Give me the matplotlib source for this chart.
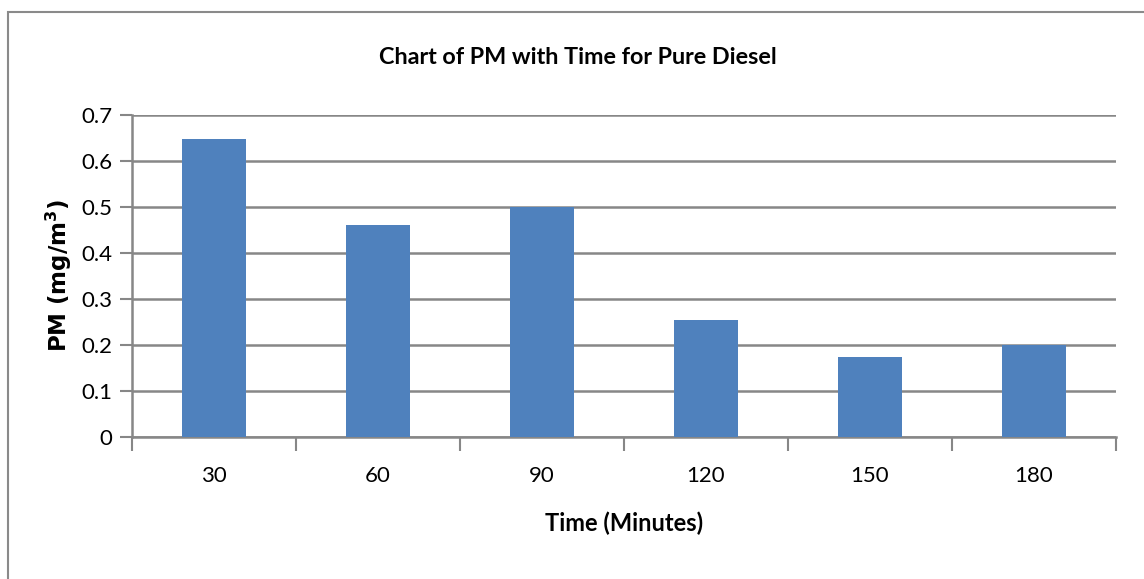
import matplotlib
matplotlib.use("Agg")
import matplotlib.pyplot as plt
from matplotlib.patches import Rectangle
import numpy as np

plt.rcParams['font.family'] = ['Liberation Sans Narrow', 'Lato', 'DejaVu Sans']

categories = ["30", "60", "90", "120", "150", "180"]
pm_values = [0.648, 0.461, 0.50, 0.255, 0.173, 0.199]
y_ticks = [0, 0.1, 0.2, 0.3, 0.4, 0.5, 0.6, 0.7]
y_tick_labels = ["0", "0.1", "0.2", "0.3", "0.4", "0.5", "0.6", "0.7"]

fig = plt.figure(figsize=(11.44, 5.79), dpi=100)
ax = fig.add_axes([0.115, 0.2453, 0.9755 - 0.115, 0.8014 - 0.2453])

grid_c = "#878787"
x = np.arange(len(categories))
ax.bar(x, pm_values, width=0.39, color="#4F81BD", zorder=3)

ax.set_xlim(-0.5, len(categories) - 0.5)
ax.set_ylim(0, 0.7)
ax.set_yticks(y_ticks)
ax.set_yticklabels(y_tick_labels, fontsize=16, color="#000000")
ax.yaxis.grid(True, color=grid_c, linewidth=1.8, zorder=0)

ax.set_xticks(np.arange(-0.5, len(categories), 1.0))
ax.set_xticklabels([])
ax.set_xticks(x, minor=True)
ax.set_xticklabels(categories, minor=True, fontsize=16)
ax.tick_params(axis='x', which='major', length=10, width=1.5, color=grid_c, direction='out')
ax.tick_params(axis='x', which='minor', length=0, pad=21)
ax.tick_params(axis='y', length=9, width=1.5, color=grid_c, direction='out', pad=5)

for s in ['top', 'right']:
    ax.spines[s].set_visible(False)
for s in ['left', 'bottom']:
    ax.spines[s].set_color(grid_c)
    ax.spines[s].set_linewidth(1.8)

ax.set_xlabel("Time (Minutes)", fontsize=17, fontweight='bold', labelpad=18)
ax.set_ylabel("PM (mg/m$^\\mathbf{3}$)", fontsize=16.5, fontweight='bold', labelpad=5,
              family=['DejaVu Sans'])
fig.text(0.505, 1 - 57 / 579, "Chart of PM with Time for Pure Diesel", ha='center', va='center',
         fontsize=16.8, fontweight='bold')

fig.patches.append(Rectangle((8 / 1144, -0.1), 1.2, 1 - 12 / 579 + 0.1, transform=fig.transFigure,
                             fill=False, edgecolor="#8a8a8a", linewidth=1.5))

fig.savefig("out.png", dpi=100)
